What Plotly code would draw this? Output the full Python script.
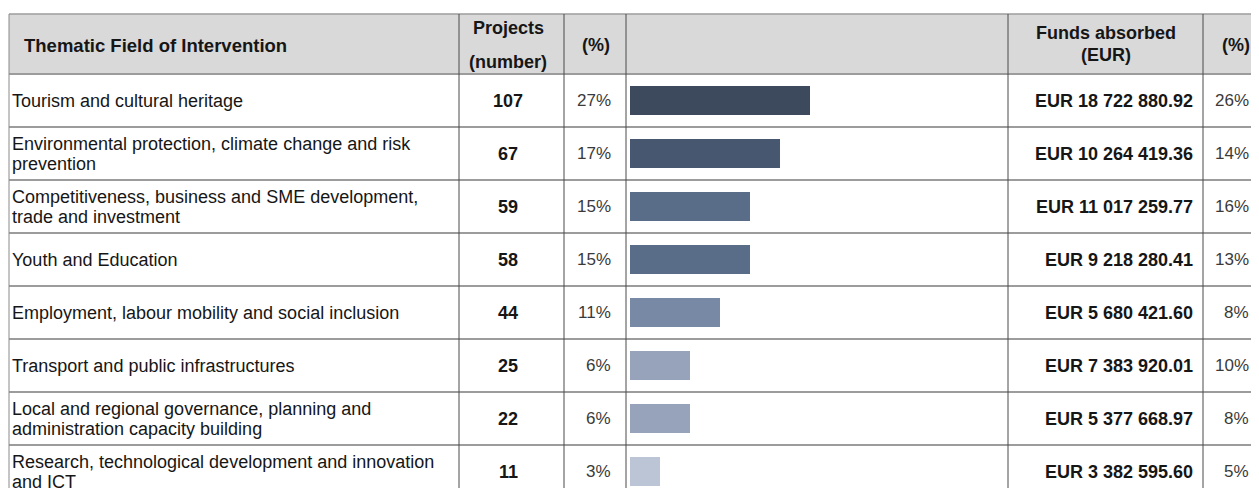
import plotly.graph_objects as go

# ---------------- data ----------------
fields = [
    "Tourism and cultural heritage",
    "Environmental protection, climate change and risk\nprevention",
    "Competitiveness, business and SME development,\ntrade and investment",
    "Youth and Education",
    "Employment, labour mobility and social inclusion",
    "Transport and public infrastructures",
    "Local and regional governance, planning and\nadministration capacity building",
    "Research, technological development and innovation\nand ICT",
]
projects = [107, 67, 59, 58, 44, 25, 22, 11]
projects_pct = [27, 17, 15, 15, 11, 6, 6, 3]
bar_units = [6, 5, 4, 4, 3, 2, 2, 1]
funds = [18722880.92, 10264419.36, 11017259.77, 9218280.41,
         5680421.60, 7383920.01, 5377668.97, 3382595.60]
funds_pct = [26, 14, 16, 13, 8, 10, 8, 5]

header_field = "Thematic Field of Intervention"
header_projects = ["Projects", "(number)"]
header_pct = "(%)"
header_funds = ["Funds absorbed", "(EUR)"]

# ---------------- styles / layout ----------------
OFF = 8                      # page offset of the figure (body margin)
PW, PH = 1259, 488           # page (window) size
W, H = PW - OFF, PH - OFF    # figure size
ROW_C0, ROW_H = 100.5, 53.0  # page px centre of first row, row height
TOP, HEAD_BOT = 14, 74
bar_colors = ["#3d4a5d", "#46576f", "#596c88", "#596c88",
              "#7889a6", "#97a3bb", "#97a3bb", "#bcc5d5"]
FONT = "Liberation Sans, Arial, sans-serif"
TXT = "#161616"


def yr(px):
    return (px - ROW_C0) / ROW_H


def xp(px):
    return (px - OFF) / W


col_x = [9, 459, 564, 626, 1008, 1203]

fig = go.Figure()
fig.add_trace(go.Bar(
    x=bar_units, y=list(range(len(bar_units))), orientation="h",
    xaxis="x2", yaxis="y", width=28.5 / ROW_H,
    marker=dict(color=bar_colors, line=dict(width=0)),
    hoverinfo="skip", showlegend=False,
))

shapes = []
shapes.append(dict(type="rect", xref="paper", yref="y", x0=xp(col_x[0]), x1=1.05,
                   y0=yr(TOP), y1=yr(HEAD_BOT), fillcolor="#d9d9d9",
                   line=dict(width=0), layer="below"))
hl = [TOP, HEAD_BOT] + [HEAD_BOT + ROW_H * (i + 1) for i in range(len(fields))]
for k, py in enumerate(hl):
    shapes.append(dict(type="line", xref="paper", yref="y", x0=xp(col_x[0]), x1=1.05,
                       y0=yr(py), y1=yr(py),
                       line=dict(color="#9c9c9c", width=1.5 if k == 0 else 2)))
for cx in col_x:
    shapes.append(dict(type="line", xref="paper", yref="y", x0=xp(cx), x1=xp(cx),
                       y0=yr(TOP), y1=yr(PH + 20),
                       line=dict(color="#4a4a4a" if cx != col_x[0] else "#8a8a8a", width=1)))

ann = []


def add(text, px, py, anchor="left", size=18, bold=False, color=TXT):
    ann.append(dict(text=f"<b>{text}</b>" if bold else text, xref="paper", yref="y",
                    x=xp(px), y=yr(py), xanchor=anchor, yanchor="middle",
                    showarrow=False, font=dict(family=FONT, size=size, color=color)))


add(header_field, 22, 45, "left", 18.5, True)
add(header_projects[0], 508, 28, "center", 18, True)
add(header_projects[1], 508, 62, "center", 18, True)
add(header_pct, 596, 45, "center", 18, True)
add(header_funds[0], 1106, 33, "center", 18, True)
add(header_funds[1], 1106, 55, "center", 18, True)
add(header_pct, 1236, 45, "center", 18, True)

for i, f in enumerate(fields):
    cy = ROW_C0 + ROW_H * i
    lines = f.split("\n")
    if len(lines) == 1:
        add(lines[0], 10, cy, "left", 18)
    else:
        add(lines[0], 10, cy - 10, "left", 18)
        add(lines[1], 10, cy + 10, "left", 18)
    add(str(projects[i]), 508, cy, "center", 18, True)
    add(f"{projects_pct[i]}%", 613, cy, "right", 17, False, "#3a3a3a")
    add("EUR " + f"{funds[i]:,.2f}".replace(",", " "), 1195, cy, "right", 18, True)
    add(f"{funds_pct[i]}%", 1251, cy, "right", 17, False, "#3a3a3a")

fig.update_layout(
    width=W, height=H, margin=dict(l=0, r=0, t=0, b=0),
    paper_bgcolor="white", plot_bgcolor="white",
    xaxis=dict(range=[0, 1], visible=False, fixedrange=True),
    xaxis2=dict(domain=[xp(629.5), xp(1008)], range=[0, (1008 - 629.5) / 30.0],
                anchor="y", visible=False, fixedrange=True),
    yaxis=dict(range=[yr(OFF + H), yr(OFF)], visible=False, fixedrange=True),
    shapes=shapes, annotations=ann, bargap=0, showlegend=False,
)

fig.write_html("out.html")
